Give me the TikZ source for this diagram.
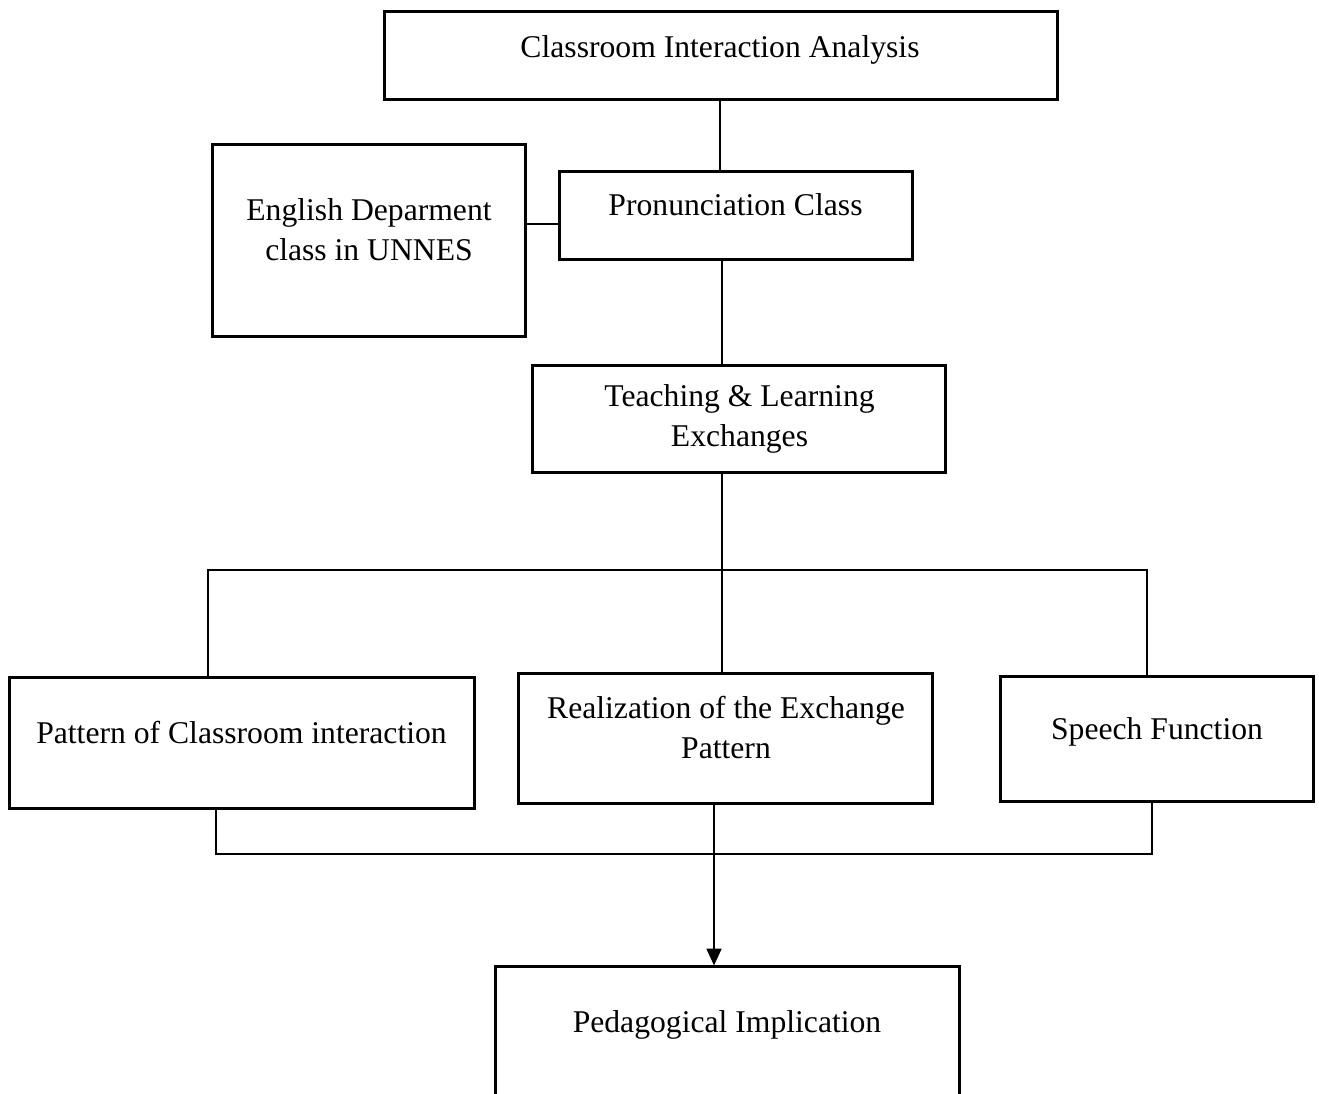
\documentclass[tikz,border=0pt]{standalone}
\usepackage{fontspec}
\setmainfont{Liberation Serif}
\usetikzlibrary{arrows.meta}
\begin{document}
\begin{tikzpicture}[x=0.01cm,y=-0.01cm,
  box/.style={draw, line width=0.85pt, inner sep=0pt, rectangle},
  txt/.style={inner sep=0pt, align=center, anchor=base, font=\fontsize{9}{11.3}\selectfont},
  conn/.style={line width=0.45pt},
  thick conn/.style={line width=0.75pt}]
\useasboundingbox (0,0) rectangle (1319,1093);
\begin{scope}
\clip (0,0) rectangle (1319,1093);
% boxes
\node[box, minimum width=6.72cm, minimum height=0.87cm] (cia) at (721,55.5) {};
\node[box, minimum width=3.52cm, minimum height=0.87cm] (pc) at (736,215.5) {};
\node[box, minimum width=3.12cm, minimum height=1.91cm] (ed) at (369,240.5) {};
\node[box, minimum width=4.12cm, minimum height=1.06cm] (tl) at (739,419) {};
\node[box, minimum width=4.64cm, minimum height=1.30cm] (pat) at (242,743) {};
\node[box, minimum width=4.13cm, minimum height=1.29cm] (real) at (725.5,738.5) {};
\node[box, minimum width=3.12cm, minimum height=1.24cm] (sf) at (1157,739) {};
\node[box, minimum width=4.63cm, minimum height=1.50cm] (ped) at (727.5,1042) {};
% texts (base anchor = last line baseline)
\node[txt] (ciat) at (720,57) {Classroom Interaction Analysis};
\node[txt] (pct) at (735.5,215) {Pronunciation Class};
\node[txt] (edt) at (369,260) {English Deparment\\class in UNNES};
\node[txt] (tlt) at (739.5,446) {Teaching \& Learning\\Exchanges};
\node[txt] (patt) at (241.5,743) {Pattern of Classroom interaction};
\node[txt] (realt) at (726,758) {Realization of the Exchange\\Pattern};
\node[txt] (sft) at (1157,739) {Speech Function};
\node[txt] (pedt) at (727,1032) {Pedagogical Implication};
% helper coordinates
\coordinate (v0) at (720,130);
\coordinate (h1) at (540,224);
\coordinate (v1) at (722,300);
\coordinate (bl) at (208,570);
\coordinate (br) at (1147,570);
\coordinate (cl) at (216,854);
\coordinate (cr) at (1152,854);
\coordinate (va) at (714,900);
% connectors
\draw[conn] (v0 |- cia.south) -- (v0 |- pc.north);
\draw[conn] (h1 -| ed.east) -- (h1 -| pc.west);
\draw[conn] (v1 |- pc.south) -- (v1 |- tl.north);
\draw[thick conn] (v1 |- tl.south) -- (v1 |- real.north);
\draw[conn] (bl |- pat.north) -- (bl) -- (br) -- (br |- sf.north);
\draw[conn] (cl |- pat.south) -- (cl) -- (cr) -- (cr |- sf.south);
\draw[thick conn, -{Triangle[length=4.8pt,width=4.2pt]}] (va |- real.south) -- (va |- ped.north);
\end{scope}
\end{tikzpicture}
\end{document}
